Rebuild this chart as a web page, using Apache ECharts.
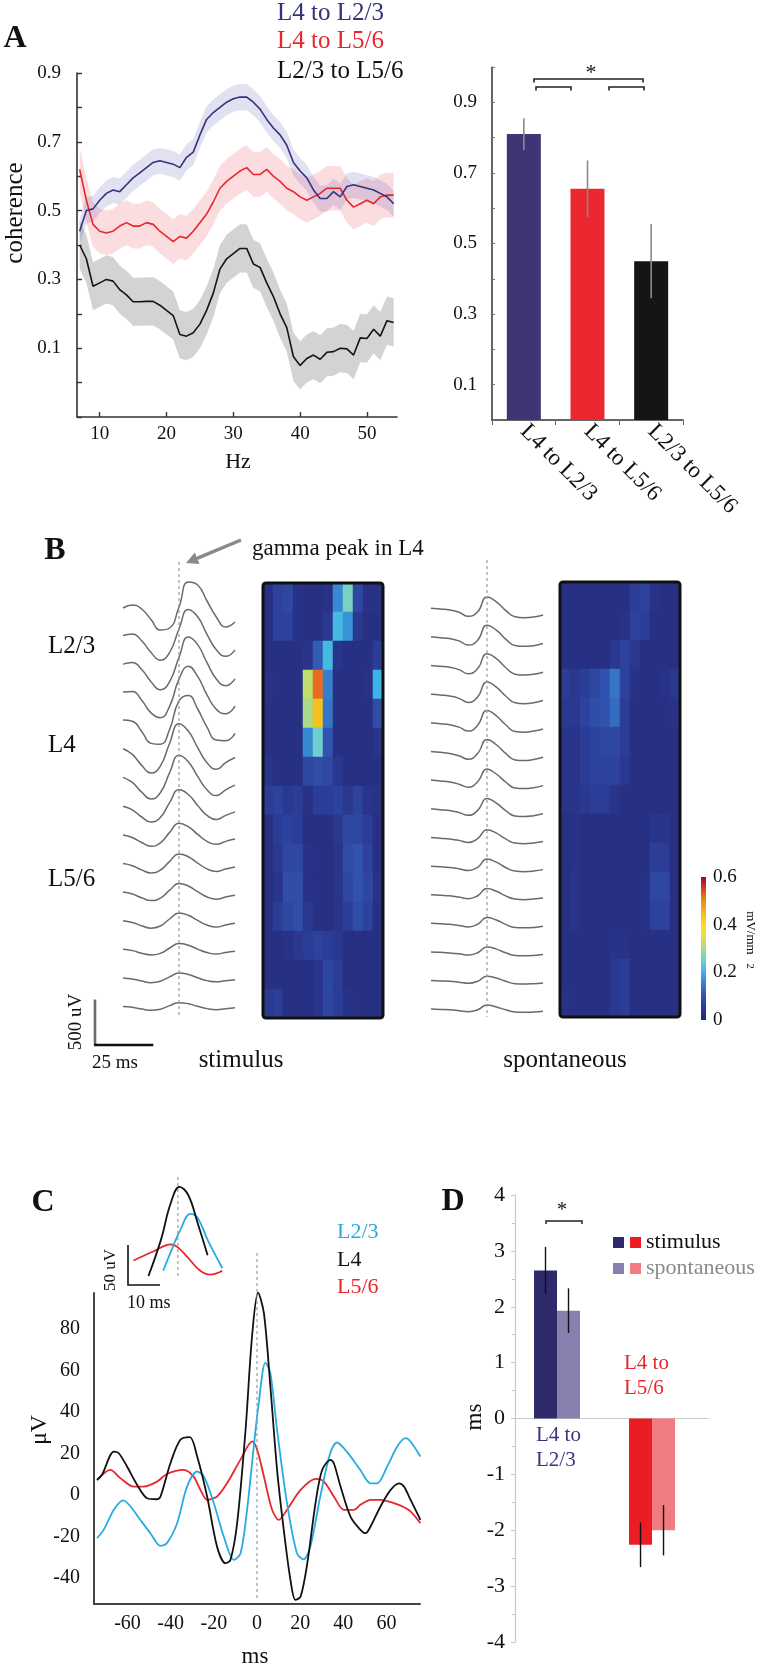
<!DOCTYPE html>
<html><head><meta charset="utf-8">
<script src="https://cdn.jsdelivr.net/npm/echarts@6/dist/echarts.min.js"></script>
<style>html,body{margin:0;padding:0;background:#fff}#c{width:760px;height:1664px}</style>
</head><body><div id="c"></div>
<script>
// ================= DATA =================
// ---- Panel A (left): coherence spectra ----
const hz = [7,8,9,10,11,12,13,14,15,16,17,18,19,20,21,22,23,24,25,26,27,28,29,30,31,32,33,34,35,36,37,38,39,40,41,42,43,44,45,46,47,48,49,50,51,52,53,54];
const cohL4toL23 = [0.44,0.50,0.505,0.53,0.55,0.56,0.555,0.575,0.595,0.61,0.625,0.64,0.645,0.64,0.635,0.625,0.655,0.67,0.72,0.765,0.785,0.80,0.815,0.825,0.83,0.83,0.815,0.795,0.765,0.74,0.72,0.69,0.64,0.615,0.595,0.56,0.535,0.535,0.555,0.54,0.57,0.575,0.57,0.565,0.56,0.55,0.54,0.52];
const cohL4toL56 = [0.62,0.53,0.46,0.44,0.435,0.44,0.455,0.465,0.455,0.455,0.465,0.46,0.44,0.425,0.41,0.425,0.42,0.44,0.465,0.49,0.525,0.565,0.585,0.60,0.615,0.625,0.605,0.605,0.62,0.60,0.585,0.565,0.555,0.54,0.53,0.54,0.55,0.565,0.565,0.565,0.53,0.51,0.52,0.53,0.52,0.54,0.545,0.545];
const cohL23toL56 = [0.40,0.36,0.28,0.29,0.30,0.295,0.27,0.255,0.235,0.235,0.236,0.236,0.225,0.21,0.195,0.14,0.135,0.145,0.17,0.21,0.26,0.33,0.36,0.375,0.39,0.39,0.345,0.335,0.29,0.25,0.20,0.16,0.075,0.05,0.07,0.08,0.068,0.088,0.09,0.10,0.098,0.08,0.13,0.128,0.155,0.135,0.18,0.175];
const semL4toL23 = 0.038, semL4toL56 = 0.065, semL23toL56 = 0.07;
const cohTickLabels = [0.1,0.3,0.5,0.7,0.9];
const hzTickLabels = [10,20,30,40,50];

// ---- Panel A (right): mean coherence ----
const pairNames = ['L4 to L2/3','L4 to L5/6','L2/3 to L5/6'];
const meanCoherence = [0.81, 0.655, 0.45];
const meanCoherenceErr = [0.045, 0.08, 0.105];

// ---- Panel B: average gamma cycles (uV) at 15 depths, and CSD heatmaps ----
const traceTimeMs = [-24,-20,-16,-12,-8,-4,0,4,8,12,16,20,24];
const stimTraces = [
 [-11,22,-22,-138,-253,-231,0,275,242,66,-110,-220,-165],
 [0,17,-57,-186,-272,-186,72,286,206,14,-157,-229,-157],
 [0,18,-59,-193,-282,-193,74,297,214,15,-163,-238,-163],
 [6,12,-83,-223,-276,-149,149,291,178,-24,-184,-232,-149],
 [12,0,-113,-244,-255,-89,223,282,134,-65,-208,-214,-134],
 [11,-51,-172,-257,-180,72,286,206,23,-143,-215,-143,-86],
 [10,-46,-152,-228,-159,63,253,182,20,-127,-190,-127,-76],
 [7,-34,-112,-168,-118,47,187,135,15,-94,-140,-94,-56],
 [5,-24,-79,-119,-83,33,132,95,11,-66,-99,-66,-40],
 [4,-20,-66,-99,-69,28,110,79,9,-55,-83,-55,-33],
 [4,-18,-59,-89,-62,25,99,71,8,-50,-74,-50,-30],
 [4,-16,-53,-79,-55,22,88,63,7,-44,-66,-44,-26],
 [3,-12,-40,-59,-42,17,66,48,5,-33,-50,-33,-20],
 [2,-10,-33,-50,-35,14,55,40,4,-28,-41,-28,-17],
 [2,-8,-26,-40,-28,11,44,32,4,-22,-33,-22,-13]
];
const spontTraces = [
 [20,10,0,-25,-70,-20,143,90,-5,-75,-85,-78,-55],
 [20,10,0,-26,-72,-19,146,92,-6,-76,-86,-78,-55],
 [18,9,-2,-28,-74,-16,148,94,-4,-78,-88,-80,-56],
 [16,8,-4,-30,-76,-14,150,94,-4,-78,-88,-78,-54],
 [16,6,-6,-32,-76,-12,150,92,-6,-80,-88,-76,-52],
 [14,4,-8,-34,-72,-8,146,88,-8,-80,-86,-74,-50],
 [14,4,-8,-32,-66,-6,134,80,-8,-74,-80,-70,-48],
 [12,2,-8,-30,-60,-6,124,74,-8,-68,-74,-64,-44],
 [10,2,-6,-22,-46,-4,96,58,-6,-52,-58,-50,-34],
 [8,2,-6,-20,-40,-4,86,52,-6,-46,-52,-46,-30],
 [8,2,-4,-18,-36,-3,76,46,-4,-40,-46,-40,-28],
 [8,2,-4,-16,-32,-3,72,44,-4,-38,-42,-38,-26],
 [6,2,-4,-14,-28,-2,62,38,-3,-32,-36,-32,-22],
 [6,2,-2,-12,-24,-2,54,34,-2,-28,-32,-28,-20],
 [6,2,-2,-11,-22,-2,50,30,-2,-26,-30,-26,-18]
];
const stimCSD = [
 [0.02,0.07,0.08,0.03,0.02,0.02,0.03,0.16,0.26,0.08,0.03,0.03],
 [0.02,0.07,0.07,0.03,0.02,0.02,0.05,0.21,0.17,0.05,0.02,0.02],
 [0.02,0.02,0.02,0.02,0.04,0.11,0.21,0.04,0.02,0.02,0.02,0.06],
 [0.03,0.02,0.02,0.02,0.32,0.52,0.15,0.02,0.02,0.02,0.03,0.20],
 [0.02,0.02,0.02,0.02,0.30,0.44,0.14,0.02,0.02,0.02,0.02,0.09],
 [0.02,0.02,0.02,0.02,0.16,0.25,0.10,0.02,0.02,0.02,0.02,0.04],
 [0.04,0.02,0.02,0.02,0.08,0.09,0.08,0.05,0.02,0.02,0.02,0.02],
 [0.06,0.07,0.05,0.06,0.03,0.06,0.06,0.07,0.05,0.07,0.04,0.03],
 [0.02,0.06,0.07,0.06,0.02,0.02,0.02,0.05,0.08,0.08,0.06,0.02],
 [0.02,0.05,0.08,0.08,0.03,0.02,0.02,0.04,0.09,0.10,0.07,0.02],
 [0.02,0.04,0.09,0.09,0.03,0.02,0.02,0.04,0.08,0.10,0.08,0.03],
 [0.02,0.06,0.08,0.09,0.05,0.02,0.02,0.04,0.06,0.09,0.07,0.02],
 [0.02,0.02,0.03,0.05,0.06,0.07,0.06,0.05,0.02,0.02,0.02,0.02],
 [0.02,0.02,0.02,0.02,0.02,0.04,0.08,0.06,0.02,0.02,0.02,0.02],
 [0.05,0.06,0.02,0.02,0.02,0.04,0.08,0.06,0.03,0.02,0.02,0.02]
];
const spontCSD = [
 [0.02,0.02,0.02,0.02,0.02,0.02,0.02,0.06,0.07,0.03,0.02,0.02],
 [0.02,0.02,0.02,0.02,0.02,0.02,0.03,0.07,0.06,0.02,0.02,0.02],
 [0.02,0.02,0.02,0.02,0.02,0.05,0.07,0.05,0.02,0.02,0.02,0.02],
 [0.06,0.05,0.06,0.08,0.10,0.14,0.07,0.03,0.02,0.02,0.03,0.05],
 [0.05,0.05,0.07,0.09,0.10,0.13,0.06,0.02,0.02,0.02,0.02,0.03],
 [0.04,0.04,0.06,0.07,0.08,0.08,0.06,0.02,0.02,0.02,0.02,0.02],
 [0.04,0.04,0.06,0.07,0.07,0.07,0.05,0.02,0.02,0.02,0.02,0.02],
 [0.04,0.04,0.05,0.06,0.06,0.04,0.02,0.02,0.02,0.02,0.02,0.02],
 [0.02,0.03,0.02,0.02,0.02,0.02,0.02,0.02,0.02,0.04,0.04,0.02],
 [0.02,0.03,0.02,0.02,0.02,0.02,0.02,0.02,0.02,0.06,0.06,0.02],
 [0.02,0.04,0.02,0.02,0.02,0.02,0.02,0.02,0.03,0.08,0.08,0.02],
 [0.02,0.04,0.02,0.02,0.02,0.02,0.02,0.02,0.03,0.07,0.07,0.02],
 [0.02,0.02,0.02,0.02,0.02,0.03,0.03,0.02,0.02,0.02,0.02,0.02],
 [0.02,0.02,0.02,0.02,0.02,0.05,0.06,0.02,0.02,0.02,0.02,0.02],
 [0.03,0.02,0.02,0.02,0.02,0.05,0.06,0.02,0.02,0.02,0.02,0.02]
];
const csdMax = 0.6;
const csdTickLabels = [0,0.2,0.4,0.6];
const layerLabels = ['L2/3','L4','L5/6'];

// ---- Panel C: average cycle per layer ([ms, uV]) ----
const avgL23 = [[-74.1,-20.9],[-71,-16.9],[-66.3,-7.2],[-62,-2.7],[-58.6,-5.6],[-54,-12.1],[-49.4,-18.5],[-44.7,-24.6],[-41.7,-23.3],[-37,-13.7],[-32.4,4],[-27.7,11.3],[-24.6,8.9],[-20,-4],[-15.4,-20.1],[-10.7,-31.4],[-7.6,-28.2],[-4.6,-7.2],[-1.5,23.3],[0.8,44.3],[3.9,63.9],[6.2,58.8],[9.3,31.4],[13.9,-4],[18.5,-28.2],[21.6,-31.1],[24.7,-25],[29.3,-0.8],[33.9,20.1],[37,25.3],[41.6,20.9],[47.8,12.1],[52.6,5.6],[55.6,5.6],[60.3,13.7],[64.9,23.3],[68.8,27.4],[71.1,25.8],[75.7,18.5]];
const avgL4 = [[-74.1,7.2],[-71.8,9.7],[-66.3,20.9],[-64,20.1],[-60.2,13.7],[-55.5,4.8],[-50.9,-1.6],[-46.3,-2.1],[-44.7,-0.8],[-40.1,15.3],[-35.5,26.6],[-31.1,27.9],[-27.7,18.5],[-23.1,-0.8],[-18.5,-25],[-14.6,-33],[-12.3,-31.4],[-9.2,-13.7],[-5.3,31.4],[-2.3,76.5],[0.5,97.7],[3.2,87.8],[6.2,52.3],[9.3,12.1],[12.4,-16.9],[15.5,-41.1],[17.8,-50.7],[20.2,-49.1],[23.3,-33],[27.1,-4],[30.2,12.1],[34.1,16.9],[35.6,15.3],[38.7,4],[43.3,-10.5],[47.9,-16.9],[50.3,-18.5],[52.6,-15.3],[57.2,-5.6],[61.9,2.4],[65.8,5.6],[68.1,4],[70.4,-0.8],[75.7,-12.1]];
const avgL56 = [[-74.1,7.2],[-67.9,12.1],[-63.3,8.1],[-57.1,4],[-52.5,4],[-46.3,6.4],[-41.7,10.1],[-34,12.1],[-29.4,8.9],[-26.2,2.4],[-23.1,-2.4],[-18.5,-0.8],[-13.9,5.6],[-7.7,16.9],[-2.2,25.8],[0.1,21.7],[3.2,8.9],[7,-7.2],[10.1,-12.1],[13.9,-7.2],[20.2,2.4],[27.1,7.7],[31,6.4],[35.6,-0.8],[40.2,-7.2],[44.9,-7.2],[47.9,-4.8],[52.6,-2.4],[57.2,-2.4],[63.4,-4],[68.1,-6],[71.1,-8],[75.7,-13.7]];
const msTickLabels = [-60,-40,-20,0,20,40,60];
const uvTickLabels = [-40,-20,0,20,40,60,80];

// ---- Panel D: lags (ms) ----
const lagGroups = ['L4 to L2/3','L4 to L5/6'];
const lagStim = [2.65, -2.26];
const lagStimErr = [0.42, 0.40];
const lagSpont = [1.93, -2.0];
const lagSpontErr = [0.40, 0.45];

// ================= CHART =================
const SERIF = '"Liberation Serif","DejaVu Serif",serif';
const chart = echarts.init(document.getElementById('c'));
const NAVY = '#33337c', RED = '#e8262d', CYAN = '#29abe2';
const csdColors = ['#252a78','#2a3890','#3152ae','#367fcc','#3cb4e6','#6fcfd0','#a8da88','#dfe24a','#f8e020','#f6b81f','#f08a1f','#de3e1e','#8c1217'];
const CH_SPACING = 314; // uV between stacked channels (layout)
const series = [];

// A confidence bands + lines
const aSets = [
  {d: cohL23toL56, e: semL23toL56, line:'#141414', band:'rgba(150,150,150,0.42)'},
  {d: cohL4toL56, e: semL4toL56, line: RED, band:'rgba(240,100,110,0.22)'},
  {d: cohL4toL23, e: semL4toL23, line: NAVY, band:'rgba(80,80,170,0.17)'}
];
aSets.forEach(s=>{
  series.push({type:'custom', xAxisIndex:0, yAxisIndex:0, silent:true, z:1, encode:{x:0, y:1},
    data:[[hz[0], s.d[0]]],
    renderItem:(p,api)=>{
      const up = hz.map((h,j)=>api.coord([h, s.d[j]+s.e]));
      const lo = hz.map((h,j)=>api.coord([h, s.d[j]-s.e])).reverse();
      return {type:'polygon', shape:{points: up.concat(lo)}, style:{fill:s.band}};
    }});
});
aSets.forEach(s=>{
  series.push({type:'line', xAxisIndex:0, yAxisIndex:0, symbol:'none', silent:true, z:3,
    lineStyle:{color:s.line, width:1.6}, data: hz.map((h,j)=>[h, s.d[j]])});
});
// A bars
const aBarColors = ['#3d3574','#ec282e','#151515'];
series.push({type:'bar', xAxisIndex:1, yAxisIndex:1, barWidth:34, silent:true,
  data: meanCoherence.map((v,i)=>({value:v, itemStyle:{color:aBarColors[i]}}))});
series.push({type:'custom', xAxisIndex:1, yAxisIndex:1, silent:true, z:5, encode:{x:0, y:[1,2]},
  data: meanCoherence.map((v,i)=>[i, v-meanCoherenceErr[i], v+meanCoherenceErr[i]]),
  renderItem:(p,api)=>{const a=api.coord([api.value(0),api.value(1)]), b=api.coord([api.value(0),api.value(2)]);
    return {type:'line', shape:{x1:a[0],y1:a[1],x2:b[0],y2:b[1]}, style:{stroke:'#8a8a8a', lineWidth:1.6}};}});

// B traces
stimTraces.forEach((tr,k)=>series.push({type:'line', xAxisIndex:2, yAxisIndex:2, symbol:'none', smooth:0.5, silent:true,
  lineStyle:{color:'#6a6a6a', width:1.5}, data: traceTimeMs.map((t,j)=>[t, tr[j]-k*CH_SPACING])}));
spontTraces.forEach((tr,k)=>series.push({type:'line', xAxisIndex:4, yAxisIndex:4, symbol:'none', smooth:0.5, silent:true,
  lineStyle:{color:'#6a6a6a', width:1.5}, data: traceTimeMs.map((t,j)=>[t, tr[j]-k*CH_SPACING])}));
// B heatmaps
const toCells = m => { const out=[]; m.forEach((row,r)=>row.forEach((v,c)=>out.push([c,r,v]))); return out; };
const hmIdx = [];
hmIdx.push(series.length);
series.push({type:'heatmap', xAxisIndex:3, yAxisIndex:3, data: toCells(stimCSD), silent:true, emphasis:{disabled:true}});
hmIdx.push(series.length);
series.push({type:'heatmap', xAxisIndex:5, yAxisIndex:5, data: toCells(spontCSD), silent:true, emphasis:{disabled:true}});
// colorbar
series.push({type:'bar', xAxisIndex:6, yAxisIndex:6, barWidth:'100%', silent:true, data:[csdMax],
  itemStyle:{color:{type:'linear', x:0, y:1, x2:0, y2:0, colorStops: csdColors.map((c,i)=>({offset:i/(csdColors.length-1), color:c}))}}});

// C inset + main
const inWin = (arr,a,b)=>arr.filter(p=>p[0]>=a && p[0]<=b);
const cSets = [{d:avgL56, c:RED, w:[-15.6,16.3]}, {d:avgL23, c:CYAN, w:[-5,16.3]}, {d:avgL4, c:'#111', w:[-9.5,10.5]}];
cSets.forEach(s=>series.push({type:'line', xAxisIndex:7, yAxisIndex:7, symbol:'none', smooth:0.4, silent:true,
  lineStyle:{color:s.c, width:1.8}, data: inWin(s.d, s.w[0], s.w[1])}));
cSets.forEach(s=>series.push({type:'line', xAxisIndex:8, yAxisIndex:8, symbol:'none', smooth:0.3, silent:true,
  lineStyle:{color:s.c, width:1.8}, data: s.d}));

// D bars
const D_BAR_W = 23;
const stimColors = ['#2f2a6b','#ec1c24'], spontColors = ['#8580ae','#f07b80'];
series.push({type:'bar', xAxisIndex:9, yAxisIndex:9, barWidth:D_BAR_W, barGap:'0%', silent:true,
  data: lagStim.map((v,i)=>({value:[i,v], itemStyle:{color:stimColors[i]}}))});
series.push({type:'bar', xAxisIndex:9, yAxisIndex:9, barWidth:D_BAR_W, barGap:'0%', silent:true,
  data: lagSpont.map((v,i)=>({value:[i,v], itemStyle:{color:spontColors[i]}}))});
[[lagStim,lagStimErr,-1],[lagSpont,lagSpontErr,1]].forEach(([m,e,side])=>{
  series.push({type:'custom', xAxisIndex:9, yAxisIndex:9, silent:true, z:5, encode:{x:0,y:[1,2]},
    data: m.map((v,i)=>[i, v-e[i], v+e[i]]),
    renderItem:(p,api)=>{const a=api.coord([api.value(0),api.value(1)]), b=api.coord([api.value(0),api.value(2)]);
      const o = side*D_BAR_W/2;
      return {type:'line', shape:{x1:a[0]+o,y1:a[1],x2:b[0]+o,y2:b[1]}, style:{stroke:'#111', lineWidth:1.4}};}});
});

const lbl = (o)=>Object.assign({color:'#111', fontFamily:SERIF}, o);
const fmt1 = v => (Math.abs(v)<1e-9 ? '0' : v.toFixed(1));
const HM_STIM = {left:263, top:583, width:120, height:435};
const HM_SPONT = {left:560, top:582, width:120, height:435};
const option = {
  animation:false,
  backgroundColor:'#fff',
  grid:[
    {left:77, top:73, width:320, height:344},
    {left:492, top:67, width:191, height:353},
    {left:123, top:562, width:112, height:455},
    HM_STIM,
    {left:431, top:560, width:112, height:457},
    HM_SPONT,
    {left:701, top:877, width:5, height:143},
    {left:128, top:1177, width:102, height:108},
    {left:94, top:1293, width:326, height:311},
    {left:515, top:1195, width:193, height:447}
  ],
  xAxis:[
    {gridIndex:0, type:'value', min:6.6, max:54.5, splitLine:{show:false},
      axisLine:{show:true, onZero:false, lineStyle:{color:'#333', width:1.6}},
      axisTick:{show:true, inside:true, length:5, customValues:hzTickLabels, lineStyle:{color:'#333', width:1.4}},
      axisLabel:lbl({customValues:hzTickLabels, fontSize:19, margin:8})},
    {gridIndex:1, type:'category', data:pairNames,
      axisLine:{lineStyle:{color:'#333', width:1.5}}, axisTick:{show:true, length:5, lineStyle:{color:'#666'}},
      axisLabel:lbl({rotate:-45, fontSize:23, margin:8, interval:0})},
    {gridIndex:2, type:'value', min:-24, max:24, show:false},
    {gridIndex:3, type:'category', data:stimCSD[0].map((_,i)=>i), show:false},
    {gridIndex:4, type:'value', min:-24, max:24, show:false},
    {gridIndex:5, type:'category', data:spontCSD[0].map((_,i)=>i), show:false},
    {gridIndex:6, type:'category', data:['cb'], show:false},
    {gridIndex:7, type:'value', min:-15.6, max:16.3, show:false},
    {gridIndex:8, type:'value', min:-75.5, max:75.5, splitLine:{show:false},
      axisLine:{show:true, onZero:false, lineStyle:{color:'#444', width:2}}, axisTick:{show:false},
      axisLabel:lbl({customValues:msTickLabels, fontSize:20, margin:10})},
    {gridIndex:9, type:'value', min:-0.442, max:1.589, splitLine:{show:false},
      axisLine:{show:true, onZero:true, lineStyle:{color:'#c8c8c8', width:1.2}}, axisTick:{show:false}, axisLabel:{show:false}}
  ],
  yAxis:[
    {gridIndex:0, type:'value', min:-0.1, max:0.9, interval:0.1, splitLine:{show:false},
      axisLine:{show:true, onZero:false, lineStyle:{color:'#333', width:1.6}},
      axisTick:{show:true, inside:true, length:5, lineStyle:{color:'#333', width:1.4}},
      axisLabel:lbl({customValues:cohTickLabels, formatter:fmt1, fontSize:19, margin:16})},
    {gridIndex:1, type:'value', min:0, max:1, interval:0.1, splitLine:{show:false},
      axisLine:{show:true, onZero:false, lineStyle:{color:'#333', width:1.5}},
      axisTick:{show:true, inside:true, length:3, lineStyle:{color:'#777'}},
      axisLabel:lbl({customValues:cohTickLabels, formatter:fmt1, fontSize:19, margin:15})},
    {gridIndex:2, type:'value', min:-4510, max:495, show:false},
    {gridIndex:3, type:'category', inverse:true, data:stimCSD.map((_,i)=>i), show:false},
    {gridIndex:4, type:'value', min:-4477, max:550, show:false},
    {gridIndex:5, type:'category', inverse:true, data:spontCSD.map((_,i)=>i), show:false},
    {gridIndex:6, type:'value', min:0, max:csdMax, position:'right', splitLine:{show:false},
      axisLine:{show:false}, axisTick:{show:false},
      axisLabel:lbl({customValues:csdTickLabels, formatter:fmt1, fontSize:19, margin:7})},
    {gridIndex:7, type:'value', min:-25, max:110, show:false},
    {gridIndex:8, type:'value', min:-52.7, max:97.5, splitLine:{show:false},
      axisLine:{show:true, onZero:false, lineStyle:{color:'#444', width:2}}, axisTick:{show:false},
      axisLabel:lbl({customValues:uvTickLabels, fontSize:20, margin:14})},
    {gridIndex:9, type:'value', min:-4, max:4, interval:1, splitLine:{show:false},
      axisLine:{show:true, onZero:false, lineStyle:{color:'#c8c8c8', width:1.2}},
      axisTick:{show:true, length:4, lineStyle:{color:'#c8c8c8'}},
      minorTick:{show:true, splitNumber:2, length:3, lineStyle:{color:'#c8c8c8'}},
      axisLabel:lbl({fontSize:22, margin:10})}
  ],
  visualMap:[{type:'continuous', show:false, min:0, max:csdMax, dimension:2, seriesIndex:hmIdx, inRange:{color:csdColors}}],
  series
};
chart.setOption(option);

// ---------- annotations ----------
const T = (s,x,y,o={}) => ({type:'text', x, y, rotation:o.rot||0, z:20,
  style:{text:s, fill:o.color||'#111', fontFamily:SERIF, fontSize:o.size||22, fontWeight:o.bold?'bold':'normal',
  align:o.align||'left', verticalAlign:'middle'}});
const L = (x1,y1,x2,y2,o={}) => ({type:'line', z:20, shape:{x1,y1,x2,y2}, style:{stroke:o.color||'#111', lineWidth:o.w||1.5, lineDash:o.dash||null}});
const px = (ax, v) => chart.convertToPixel({xAxisIndex:ax}, v);
const py = (ax, v) => chart.convertToPixel({yAxisIndex:ax}, v);
const g = [];
// Panel A
g.push(T('A', 15, 39, {bold:true, size:32, align:'center'}));
g.push(T(pairNames[0], 277, 13, {color:NAVY, size:25}));
g.push(T(pairNames[1], 277, 41, {color:RED, size:25}));
g.push(T(pairNames[2], 277, 71, {size:25}));
g.push(T('coherence', 15, 213, {rot:Math.PI/2, size:25, align:'center'}));
g.push(T('Hz', 238, 462, {size:22, align:'center'}));
[[534,643,79],[536,571,87],[609,644,87]].forEach(([a,b,y])=>{
  g.push({type:'polyline', z:20, shape:{points:[[a,y+3.5],[a,y],[b,y],[b,y+3.5]]}, style:{stroke:'#222', lineWidth:1.6, fill:null}});
});
g.push(T('*', 591, 73, {size:22, align:'center'}));
// Panel B
g.push(T('B', 55, 551, {bold:true, size:32, align:'center'}));
g.push(T('gamma peak in L4', 252, 549, {size:23}));
g.push(L(241,540,197,558.4,{color:'#8a8a8a', w:3.5}));
g.push({type:'polygon', z:20, shape:{points:[[186,563],[199.6,564],[194.8,552.5]]}, style:{fill:'#8a8a8a'}});
g.push(T(layerLabels[0], 48, 646, {size:25}));
g.push(T(layerLabels[1], 48, 745, {size:25}));
g.push(T(layerLabels[2], 48, 879, {size:25}));
g.push(T('stimulus', 241, 1060, {size:25, align:'center'}));
g.push(T('spontaneous', 565, 1060, {size:25, align:'center'}));
[HM_STIM, HM_SPONT].forEach(b=>g.push({type:'rect', z:20, shape:{x:b.left, y:b.top, width:b.width, height:b.height, r:3},
  style:{fill:null, stroke:'#111', lineWidth:3}}));
const xs0 = px(2,0), xp0 = px(4,0);
g.push(L(xs0,562,xs0,1017,{color:'#9a9a9a', w:1.2, dash:[3,3]}));
g.push(L(xp0,560,xp0,1017,{color:'#9a9a9a', w:1.2, dash:[3,3]}));
const uv500 = Math.abs(py(2,0)-py(2,500)), ms25 = Math.abs(px(2,25)-px(2,0));
g.push(L(95,1045-uv500,95,1045,{color:'#6a6a6a', w:2.6}));
g.push(L(94,1045,95+ms25,1045,{color:'#111', w:2.6}));
g.push(T('500 uV', 76, 1022, {rot:Math.PI/2, size:19, align:'center'}));
g.push(T('25 ms', 92, 1063, {size:19}));
g.push(T('mV/mm', 750, 933, {rot:-Math.PI/2, size:13, align:'center'}));
g.push(T('2', 750, 966, {rot:-Math.PI/2, size:11, align:'center'}));
// Panel C
g.push(T('C', 43, 1203, {bold:true, size:32, align:'center'}));
g.push(T('L2/3', 337, 1232, {color:CYAN, size:22}));
g.push(T('L4', 337, 1260, {size:22}));
g.push(T('L5/6', 337, 1287, {color:RED, size:22}));
g.push(T('μV', 40, 1430, {rot:Math.PI/2, size:24, align:'center'}));
g.push(T('ms', 255, 1657, {size:23, align:'center'}));
const xi0 = px(7,0), xm0 = px(8,0);
g.push(L(xi0,1177,xi0,1278,{color:'#9a9a9a', w:1.2, dash:[3,3]}));
g.push(L(xm0,1253,xm0,1600,{color:'#9a9a9a', w:1.2, dash:[3,3]}));
const uv50 = Math.abs(py(7,0)-py(7,50)), ms10 = Math.abs(px(7,10)-px(7,0));
g.push({type:'polyline', z:20, shape:{points:[[128,1285-uv50],[128,1285],[128+ms10,1285]]}, style:{stroke:'#111', lineWidth:1.6, fill:null}});
g.push(T('50 uV', 111, 1270, {rot:Math.PI/2, size:17, align:'center'}));
g.push(T('10 ms', 127, 1303, {size:18}));
// Panel D
g.push(T('D', 453, 1202, {bold:true, size:32, align:'center'}));
g.push(T('ms', 475, 1417, {rot:Math.PI/2, size:23, align:'center'}));
g.push({type:'polyline', z:20, shape:{points:[[546,1224],[546,1221],[582,1221],[582,1224]]}, style:{stroke:'#222', lineWidth:1.5, fill:null}});
g.push(T('*', 562, 1211, {size:20, align:'center'}));
g.push({type:'rect', z:20, shape:{x:613,y:1237,width:11,height:11}, style:{fill:stimColors[0]}});
g.push({type:'rect', z:20, shape:{x:630,y:1237,width:11,height:11}, style:{fill:stimColors[1]}});
g.push({type:'rect', z:20, shape:{x:613,y:1263,width:11,height:11}, style:{fill:spontColors[0]}});
g.push({type:'rect', z:20, shape:{x:630,y:1263,width:11,height:11}, style:{fill:spontColors[1]}});
g.push(T('stimulus', 646, 1242, {size:22}));
g.push(T('spontaneous', 646, 1268, {size:22, color:'#8a8a8a'}));
g.push(T('L4 to', 536, 1435, {size:21, color:'#3a3480'}));
g.push(T('L2/3', 536, 1460, {size:21, color:'#3a3480'}));
g.push(T('L4 to', 624, 1363, {size:21, color:RED}));
g.push(T('L5/6', 624, 1388, {size:21, color:RED}));
chart.setOption({graphic:g});
</script></body></html>
